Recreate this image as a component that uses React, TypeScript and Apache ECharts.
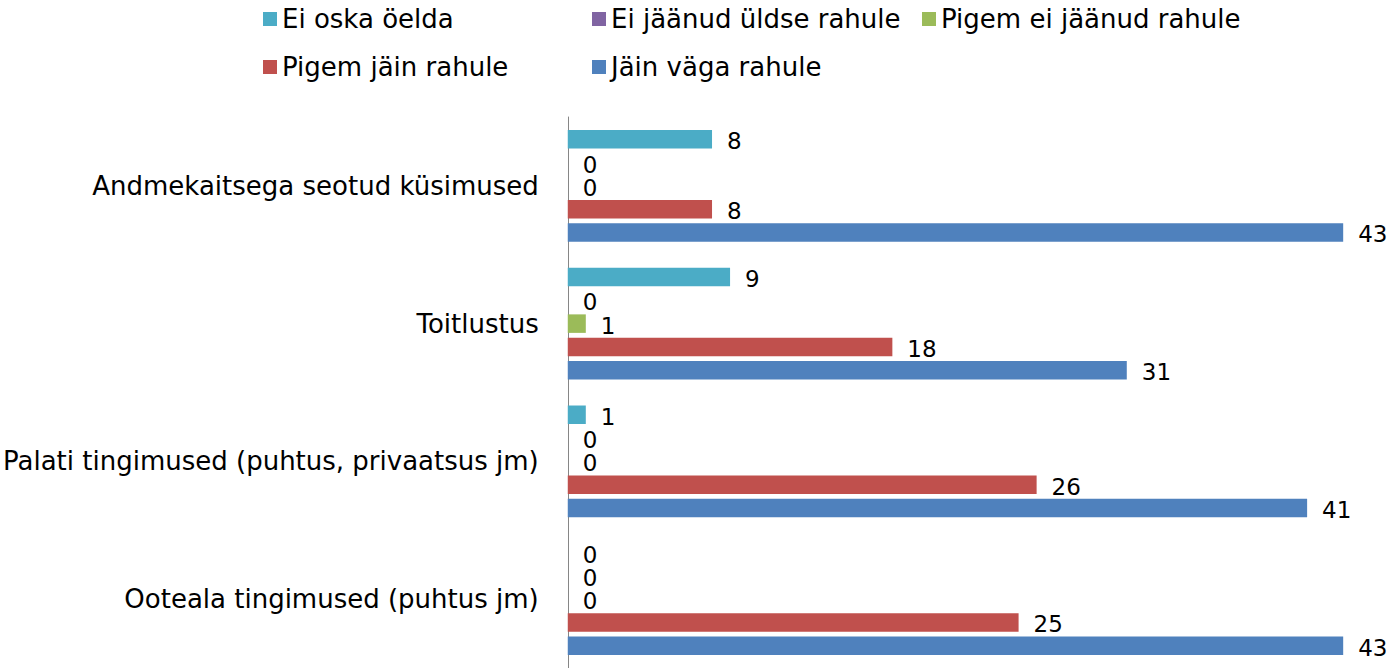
import React, { useEffect, useRef } from "react";
import * as echarts from "echarts";

const categories = [
  "Andmekaitsega seotud küsimused",
  "Toitlustus",
  "Palati tingimused (puhtus, privaatsus jm)",
  "Ooteala tingimused (puhtus jm)",
];

const seriesNames = [
  "Ei oska öelda",
  "Ei jäänud üldse rahule",
  "Pigem ei jäänud rahule",
  "Pigem jäin rahule",
  "Jäin väga rahule",
];

const eiOskaOelda = [8, 9, 1, 0];
const eiJaanudYldseRahule = [0, 0, 0, 0];
const pigemEiJaanudRahule = [0, 1, 0, 0];
const pigemJainRahule = [8, 18, 26, 25];
const jainVagaRahule = [43, 31, 41, 43];

const seriesValues = [
  eiOskaOelda,
  eiJaanudYldseRahule,
  pigemEiJaanudRahule,
  pigemJainRahule,
  jainVagaRahule,
];

const colors = ["#4BACC6", "#8064A2", "#9BBB59", "#C0504D", "#4F81BD"];

const FONT = "DejaVu Sans";

export default function App() {
  const ref = useRef<HTMLDivElement>(null);

  useEffect(() => {
    document.body.style.margin = "0";
    const chart = echarts.init(ref.current!, null, { renderer: "svg" });

    const legendPos = [
      { left: 263, top: 6 },
      { left: 592, top: 6 },
      { left: 922, top: 6 },
      { left: 263, top: 54 },
      { left: 592, top: 54 },
    ];

    chart.setOption({
      animation: false,
      backgroundColor: "#ffffff",
      color: colors,
      legend: seriesNames.map((name, i) => ({
        data: [name],
        left: legendPos[i].left,
        top: legendPos[i].top,
        padding: 0,
        icon: "rect",
        itemWidth: 14,
        itemHeight: 14,
        itemGap: 0,
        selectedMode: false,
        textStyle: {
          fontFamily: FONT,
          fontSize: 26,
          color: "#000",
          lineHeight: 26,
        },
      })),
      grid: {
        left: 567,
        right: 1398 - 567 - 45 * 18.05,
        top: 117,
        bottom: -6,
        containLabel: false,
      },
      xAxis: {
        type: "value",
        min: 0,
        max: 45,
        show: false,
      },
      yAxis: {
        type: "category",
        data: categories,
        inverse: true,
        axisLine: { show: true, lineStyle: { color: "#868686", width: 1 } },
        axisTick: { show: false },
        axisLabel: {
          fontFamily: FONT,
          fontSize: 26,
          color: "#000",
          margin: 29,
        },
        splitLine: { show: false },
      },
      series: seriesNames.map((name, i) => ({
        name,
        type: "bar",
        data: seriesValues[i],
        barWidth: 18.5,
        barGap: "26%",
        itemStyle: { color: colors[i] },
        label: {
          show: true,
          position: "right",
          distance: 15,
          offset: [0, 2],
          fontFamily: FONT,
          fontSize: 23,
          lineHeight: 21,
          color: "#000",
        },
      })),
    });

    return () => chart.dispose();
  }, []);

  return <div ref={ref} style={{ width: 1398, height: 668 }} />;
}
